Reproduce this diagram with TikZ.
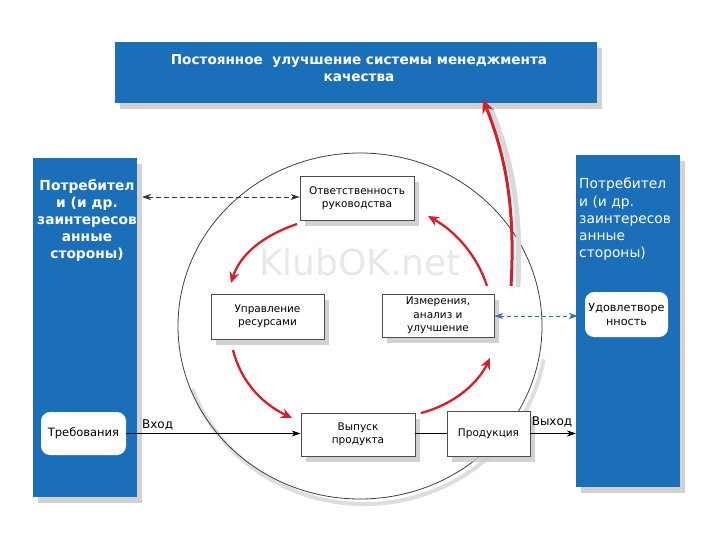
\documentclass[tikz,border=0pt]{standalone}
\usepackage{fontspec}
\setmainfont{DejaVu Sans}
\usetikzlibrary{arrows.meta,shadows}
\definecolor{barblue}{HTML}{1B6FB8}
\definecolor{redarr}{HTML}{D3202A}
\definecolor{blarr}{HTML}{3A6FB0}
\tikzset{
  shd/.style={drop shadow={shadow xshift=5pt,shadow yshift=-6pt,fill=black!22,opacity=0.8}},
  bluebar/.style={fill=barblue,draw=none,shd},
  procbox/.style={draw=black!70,line width=0.9pt,fill=white,align=center,font=\fontsize{10.5}{13.5}\selectfont,shd},
  roundbox/.style={fill=white,draw=none,rounded corners=9pt,align=center,font=\fontsize{10.5}{13.5}\selectfont},
  redarrow/.style={draw=redarr,line width=2.3pt,-{Stealth[length=11pt,width=10pt]}},
  flow/.style={draw=black,line width=0.6pt,-{Stealth[length=9pt,width=6pt]}},
  lbl/.style={font=\fontsize{12}{13}\selectfont,inner sep=0pt}
}
\begin{document}
\begin{tikzpicture}[x=1pt,y=-1pt]
\useasboundingbox (0,0) rectangle (720,540);
% watermark
\node[text=black!9,font=\fontsize{36}{40}\selectfont] (wm) at (360,262) {KlubOK.net};
% circle with soft shadow at the bottom right
\draw[black!13,line width=4pt,line cap=round] ([shift={(4,5)}]360,326) ++(10:182 and 173) arc [start angle=10,end angle=160,x radius=182,y radius=173];
\draw[black!75,line width=0.8pt] (360,326) ellipse [x radius=182,y radius=173];
% top banner
\node[bluebar,minimum width=482pt,minimum height=61pt,inner sep=0pt,anchor=north west] (top) at (115,42) {};
\node[text=white,font=\bfseries\fontsize{13.6}{17}\selectfont,align=center] (toptxt) at (359,68) {Постоянное~ улучшение системы менеджмента\\качества};
% left bar
\node[bluebar,minimum width=104pt,minimum height=339pt,inner sep=0pt,anchor=north west] (lbar) at (33,158) {};
\node[text=white,font=\bfseries\fontsize{13.8}{17.2}\selectfont,align=center,anchor=north,inner sep=0pt] (ltxt) at (87,179) {Потребител\\и (и др.\\заинтересов\\анные\\стороны)};
% right bar
\node[bluebar,minimum width=104pt,minimum height=332pt,inner sep=0pt,anchor=north west] (rbar) at (576,155) {};
\node[text=white,font=\fontsize{13.8}{17.2}\selectfont,align=left,anchor=north west,inner sep=0pt] (rtxt) at (579,178) {Потребител\\и (и др.\\заинтересов\\анные\\стороны)};
% rounded boxes
\node[roundbox,minimum width=85pt,minimum height=43pt,inner sep=0pt,font=\fontsize{11.5}{14}\selectfont] (treb) at (83.5,433.5) {Требования};
\node[roundbox,minimum width=83pt,minimum height=45pt,inner sep=0pt,font=\fontsize{11.2}{14.5}\selectfont] (udov) at (626.5,314.5) {Удовлетворе\\нность};
% process boxes
\node[procbox,minimum width=114pt,minimum height=44pt,inner sep=0pt] (otv) at (357,198) {Ответственность\\руководства};
\node[procbox,minimum width=113pt,minimum height=45pt,inner sep=0pt] (upr) at (267.5,316.5) {Управление\\ресурсами};
\node[procbox,minimum width=112pt,minimum height=43pt,inner sep=0pt] (izm) at (438,315.5) {Измерения,\\анализ и\\улучшение};
\node[procbox,minimum width=114pt,minimum height=43pt,inner sep=0pt] (vyp) at (358,434.5) {Выпуск\\продукта};
\node[procbox,minimum width=83pt,minimum height=45pt,inner sep=0pt] (prod) at (488.5,433.5) {Продукция};
% connectors
\coordinate (lbarR) at (142,197);
\coordinate (rbarL) at (578,316);
\draw[black!80,line width=0.6pt,dash pattern=on 5pt off 3pt,{Stealth[length=9pt,width=6pt]}-{Stealth[length=9pt,width=6pt]}] (lbarR) -- (otv.west |- lbarR);
\draw[blarr,line width=0.6pt,dash pattern=on 4pt off 3pt,{Stealth[length=9pt,width=6pt]}-{Stealth[length=9pt,width=6pt]}] (izm.east |- rbarL) -- (rbarL);
\draw[flow] (treb.east) -- (vyp.west |- treb.east) node[lbl,pos=0.18,above=3pt] (vhod) {Вход};
\draw[black,line width=0.6pt] (vyp.east |- prod.west) -- (prod.west);
\coordinate (rbarIn) at (rbar.west |- prod.east);
\draw[flow] (prod.east) -- (rbarIn);
\node[lbl] (vyhod) at (552,422) {Выход};
% red cycle arrows
\draw[redarrow] (297,224) .. controls (262,236) and (240,255) .. (231,283);
\draw[redarrow] (233,350) .. controls (242,385) and (265,405) .. (292,418);
\draw[redarrow] (421,413) .. controls (452,405) and (477,385) .. (490,358);
\draw[redarrow] (487,286) .. controls (478,258) and (458,233) .. (428,216);
% big red arrow with shadow
\draw[black!15,line width=5pt,line cap=round] (518,285) .. controls (522,200) and (508,150) .. (492,112);
\draw[redarr,line width=3pt,-{Stealth[length=14pt,width=12pt]}] (511,286) .. controls (516,200) and (503,150) .. (483,99);
\end{tikzpicture}
\end{document}
